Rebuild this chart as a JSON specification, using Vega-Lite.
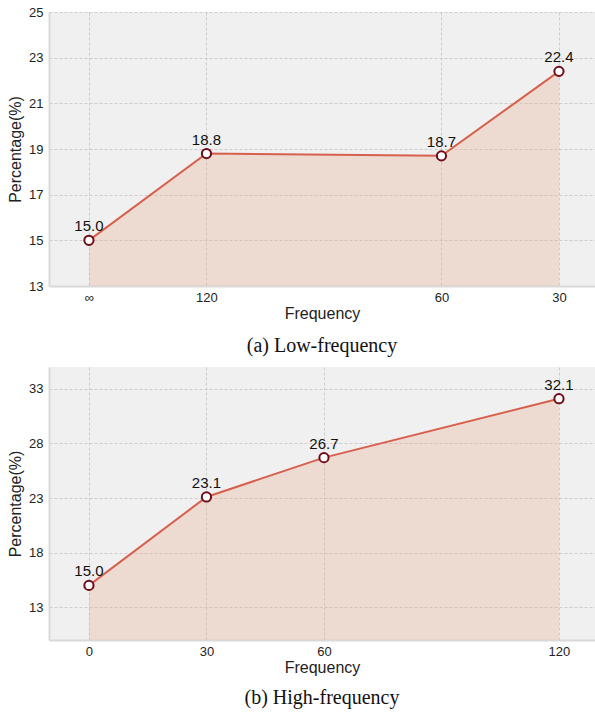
{
  "$schema": "https://vega.github.io/schema/vega-lite/v6.json",
  "padding": {"left": 7, "top": 6, "right": 1, "bottom": 5},
  "spacing": 11,
  "config": {
    "view": {"fill": "#f0f0f0", "stroke": null},
    "font": "Liberation Sans",
    "axis": {
      "ticks": false,
      "labelFont": "Liberation Sans",
      "labelFontSize": 13,
      "labelColor": "#222222",
      "titleFont": "Liberation Sans",
      "titleFontSize": 16,
      "titleFontWeight": "normal",
      "titleColor": "#222222",
      "grid": true,
      "gridColor": "#c4c4c4",
      "gridDash": [3, 2],
      "gridWidth": 0.8,
      "domainColor": "#d9d9d9",
      "domainWidth": 2,
      "labelPadding": 5
    },
    "title": {"font": "Liberation Serif", "fontSize": 20, "fontWeight": "normal", "color": "#111111", "orient": "bottom", "anchor": "middle"}
  },
  "vconcat": [
    {
      "width": 546,
      "height": 274,
      "title": {"text": "(a) Low-frequency", "offset": 15},
      "data": {"values": [
        {"pos": 0, "freq": "∞", "pct": 15.0},
        {"pos": 30, "freq": "120", "pct": 18.8},
        {"pos": 90, "freq": "60", "pct": 18.7},
        {"pos": 120, "freq": "30", "pct": 22.4}
      ]},
      "encoding": {
        "x": {"field": "pos", "type": "quantitative", "scale": {"domain": [-10.2, 129.2], "nice": false},
              "axis": {"title": "Frequency", "values": [0, 30, 90, 120], "titlePadding": 1,
                       "labelExpr": "datum.value == 0 ? '∞' : datum.value == 30 ? '120' : datum.value == 90 ? '60' : '30'"}},
        "y": {"field": "pct", "type": "quantitative", "scale": {"domain": [13, 25], "nice": false, "zero": false},
              "axis": {"title": "Percentage(%)", "values": [13, 15, 17, 19, 21, 23, 25], "titlePadding": 5, "labelPadding": 6}}
      },
      "layer": [
        {"mark": {"type": "area", "color": "#e8a88a", "opacity": 0.3, "clip": true},
         "encoding": {"y2": {"datum": 13}}},
        {"mark": {"type": "line", "color": "#d6604d", "strokeWidth": 2}},
        {"mark": {"type": "point", "filled": false, "fill": "white", "fillOpacity": 1, "stroke": "#6e0c18", "strokeWidth": 2, "size": 85, "opacity": 1}},
        {"mark": {"type": "text", "dy": -14, "fontSize": 15, "color": "#111111", "font": "Liberation Sans"},
         "encoding": {"text": {"field": "pct", "type": "quantitative", "format": ".1f"}}}
      ]
    },
    {
      "width": 546,
      "height": 273,
      "title": {"text": "(b) High-frequency", "offset": 13},
      "data": {"values": [
        {"pos": 0, "pct": 15.0},
        {"pos": 30, "pct": 23.1},
        {"pos": 60, "pct": 26.7},
        {"pos": 120, "pct": 32.1}
      ]},
      "encoding": {
        "x": {"field": "pos", "type": "quantitative", "scale": {"domain": [-10.2, 129.2], "nice": false},
              "axis": {"title": "Frequency", "values": [0, 30, 60, 120], "titlePadding": 1}},
        "y": {"field": "pct", "type": "quantitative", "scale": {"domain": [10, 35], "nice": false, "zero": false},
              "axis": {"title": "Percentage(%)", "values": [13, 18, 23, 28, 33], "titlePadding": 5, "labelPadding": 6}}
      },
      "layer": [
        {"mark": {"type": "area", "color": "#e8a88a", "opacity": 0.3, "clip": true},
         "encoding": {"y2": {"datum": 10}}},
        {"mark": {"type": "line", "color": "#d6604d", "strokeWidth": 2}},
        {"mark": {"type": "point", "filled": false, "fill": "white", "fillOpacity": 1, "stroke": "#6e0c18", "strokeWidth": 2, "size": 85, "opacity": 1}},
        {"mark": {"type": "text", "dy": -14, "fontSize": 15, "color": "#111111", "font": "Liberation Sans"},
         "encoding": {"text": {"field": "pct", "type": "quantitative", "format": ".1f"}}}
      ]
    }
  ]
}
